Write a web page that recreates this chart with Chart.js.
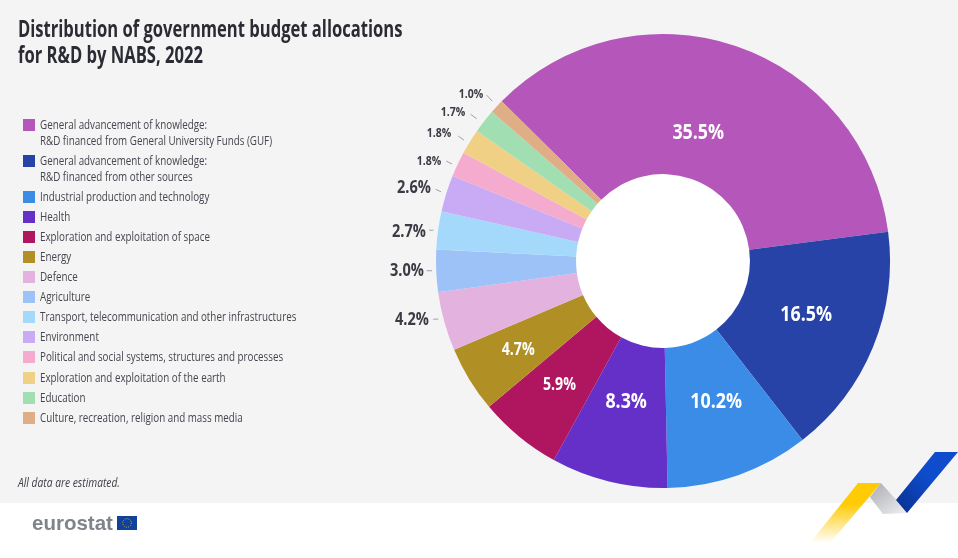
<!DOCTYPE html>
<html>
<head>
<meta charset="utf-8">
<title>Distribution of government budget allocations for R&amp;D by NABS, 2022</title>
<script src="https://cdn.jsdelivr.net/npm/chart.js@4"></script>
<style>
  html, body { margin: 0; padding: 0; background: #fff; }
  body { position: relative; width: 958px; height: 558px; overflow: hidden; font-family: "Open Sans", sans-serif; color: #33343c; }
  #panel { position: absolute; left: 0; top: 0; width: 958px; height: 503px; background: #f4f4f5; }
  #chart { position: absolute; left: 0; top: 0; }
  #ribbon { position: absolute; left: 0; top: 0; }
  /* the original face is a condensed one, none is installed, so squeeze Open Sans */
  h1 { position: absolute; left: 18px; top: 16px; margin: 0; font-size: 22.5px; line-height: 25.5px; font-weight: 700; color: #2b2c33; white-space: nowrap; transform: scaleX(0.737); transform-origin: 0 0; }
  #legend { position: absolute; left: 23px; top: 117px; margin: 0; padding: 0; list-style: none; font-size: 12.5px; line-height: 16px; color: #45464e; }
  #legend li { position: relative; padding-left: 17px; margin-bottom: 4.05px; white-space: pre; }
  #legend i { position: absolute; left: 0; top: 2px; width: 12px; height: 12px; }
  #legend span { display: block; transform: scaleX(0.785); transform-origin: 0 0; }
  #note { position: absolute; left: 18px; top: 474px; font-size: 12.5px; font-style: italic; color: #3c3d45; white-space: nowrap; transform: scaleX(0.82); transform-origin: 0 0; }
  #logo { position: absolute; left: 32px; top: 511px; font-family: "Liberation Sans", sans-serif; font-weight: bold; font-size: 20.5px; line-height: 24px; color: #7f848b; }
</style>
</head>
<body>
<div id="panel"></div>
<svg id="ribbon" width="958" height="558">
  <defs>
    <linearGradient id="fadeYellow" x1="0" y1="0" x2="0" y2="1">
      <stop offset="0.35" stop-color="#ffcb05"/>
      <stop offset="1" stop-color="#ffcb05" stop-opacity="0"/>
    </linearGradient>
    <linearGradient id="fadeGrey" x1="0" y1="0" x2="1" y2="1">
      <stop offset="0" stop-color="#a9acb1"/>
      <stop offset="1" stop-color="#f1f1f3"/>
    </linearGradient>
    <linearGradient id="fadeBlue" x1="0" y1="1" x2="1" y2="0">
      <stop offset="0" stop-color="#08308f"/>
      <stop offset="0.55" stop-color="#0e4ccb"/>
    </linearGradient>
  </defs>
  <polygon points="858,483 881,483 830,543 810,543" fill="url(#fadeYellow)"/>
  <polygon points="881,483 908,513 883,514 870,497" fill="url(#fadeGrey)"/>
  <polygon points="935,452 958,452 907,513 896,500" fill="url(#fadeBlue)"/>
  <rect x="117" y="516" width="20" height="14" fill="#10419b"/>
  <circle cx="127" cy="523" r="4.3" fill="none" stroke="#c9b545" stroke-width="1" stroke-dasharray="1 1.25"/>
</svg>
<canvas id="chart" width="958" height="558"></canvas>
<h1>Distribution of government budget allocations<br>for R&amp;D by NABS, 2022</h1>
<ul id="legend"></ul>
<div id="note">All data are estimated.</div>
<div id="logo">eurostat</div>

<script>
// text: offset of the label from the slice centre (inside) or outer edge (outside)
// tick: short leader line, also relative to the outer edge
const SECTORS = [
  { label: "General advancement of knowledge:\nR&D financed from General University Funds (GUF)", value: 35.5, color: "#b556bb", size: 22, text: [-15, 20.5], fill: "#fff" },
  { label: "General advancement of knowledge:\nR&D financed from other sources", value: 16.5, color: "#2743a8", size: 22, text: [-2, -6], fill: "#fff" },
  { label: "Industrial production and technology", value: 10.2, color: "#3a8ce6", size: 22, text: [0.7, -7], fill: "#fff" },
  { label: "Health", value: 8.3, color: "#6430c8", size: 22, text: [0.6, -12], fill: "#fff" },
  { label: "Exploration and exploitation of space", value: 5.9, color: "#b0155f", size: 17.5, text: [-4, 2.6], fill: "#fff" },
  { label: "Energy", value: 4.7, color: "#b09024", size: 17.5, text: [-11, 7], fill: "#fff" },
  { label: "Defence", value: 4.2, color: "#e3b2df", size: 18, text: [-32.3, -1.6], tick: [-11, -2.3, -6, -2.6] },
  { label: "Agriculture", value: 3.0, color: "#9cc2f7", size: 18, text: [-29.2, -0.2], tick: [-9.5, -0.2, -4.2, -0.2] },
  { label: "Transport, telecommunication and other infrastructures", value: 2.7, color: "#a5d9fb", size: 18, text: [-29.1, 1.3], tick: [-8.8, -0.1, -4.8, -0.1] },
  { label: "Environment", value: 2.6, color: "#c9aaf5", size: 18, text: [-32.3, -5.4], tick: [-10.6, -4.1, -5.3, -1.7] },
  { label: "Political and social systems, structures and processes", value: 1.8, color: "#f5abcd", size: 13, text: [-28.7, -3.2], tick: [-11.4, -3.2, -5.7, -0.2] },
  { label: "Exploration and exploitation of the earth", value: 1.8, color: "#f0d084", size: 13, text: [-31, -8.3], tick: [-11.7, -5.6, -6, -1.6] },
  { label: "Education", value: 1.7, color: "#a1dfb3", size: 13, text: [-31.2, -8.4], tick: [-13.5, -6.8, -7.5, -2.4] },
  { label: "Culture, recreation, religion and mass media", value: 1.0, color: "#dfae86", size: 13, text: [-25.8, -12.4], tick: [-10.1, -11.4, -4.5, -5.4] }
]

const legend = document.getElementById("legend")
SECTORS.forEach((s) => {
  const li = document.createElement("li")
  const box = document.createElement("i")
  const text = document.createElement("span")
  box.style.background = s.color
  text.textContent = s.label
  li.appendChild(box)
  li.appendChild(text)
  legend.appendChild(li)
})

// white disc in the hole of the ring
const whiteHole = {
  id: "whiteHole",
  beforeDatasetsDraw(chart) {
    const arc = chart.getDatasetMeta(0).data[0]
    const ctx = chart.ctx
    ctx.save()
    ctx.fillStyle = "#fff"
    ctx.beginPath()
    ctx.arc(arc.x, arc.y, arc.innerRadius + 1, 0, Math.PI * 2)
    ctx.fill()
    ctx.restore()
  }
}

// no datalabels plugin here, so the percentages are drawn by hand
const sliceLabels = {
  id: "sliceLabels",
  afterDatasetsDraw(chart) {
    const ctx = chart.ctx
    chart.getDatasetMeta(0).data.forEach((arc, i) => {
      const s = SECTORS[i]
      const mid = (arc.startAngle + arc.endAngle) / 2
      const r = s.tick ? arc.outerRadius : (arc.innerRadius + arc.outerRadius) / 2
      const px = arc.x + Math.cos(mid) * r
      const py = arc.y + Math.sin(mid) * r

      ctx.save()
      if (s.tick) {
        ctx.strokeStyle = "#8b8c92"
        ctx.lineWidth = 0.8
        ctx.beginPath()
        ctx.moveTo(px + s.tick[0], py + s.tick[1])
        ctx.lineTo(px + s.tick[2], py + s.tick[3])
        ctx.stroke()
      }
      ctx.font = `700 ${s.size}px "Open Sans", sans-serif`
      ctx.fillStyle = s.fill || "#3a3b44"
      ctx.textAlign = "center"
      ctx.textBaseline = "middle"
      ctx.translate(px + s.text[0], py + s.text[1])
      ctx.scale(0.81, 1)
      ctx.fillText(`${s.value.toFixed(1)}%`, 0, 0)
      ctx.restore()
    })
  }
}

new Chart(document.getElementById("chart"), {
  type: "doughnut",
  data: {
    labels: SECTORS.map((s) => s.label),
    datasets: [{
      data: SECTORS.map((s) => s.value),
      backgroundColor: SECTORS.map((s) => s.color),
      borderWidth: 0
    }]
  },
  options: {
    responsive: false,
    animation: false,
    rotation: -45.3,
    cutout: "38.3%",
    layout: { padding: { left: 436, right: 68, top: 34, bottom: 70 } },
    plugins: { legend: { display: false }, tooltip: { enabled: false } }
  },
  plugins: [whiteHole, sliceLabels]
})
</script>
</body>
</html>
